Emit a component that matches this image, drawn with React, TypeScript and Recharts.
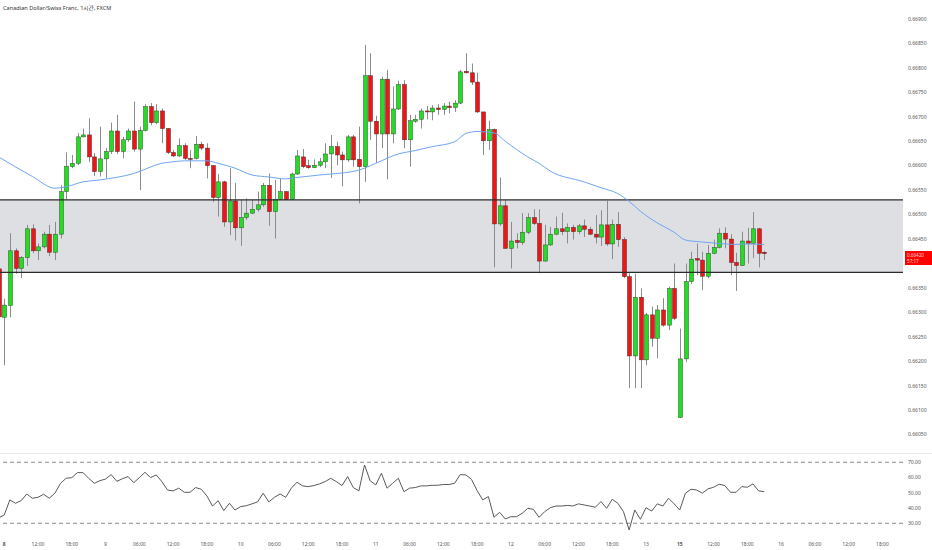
import React from "react";
import {
  ComposedChart,
  LineChart,
  Bar,
  Line,
  XAxis,
  YAxis,
  ReferenceArea,
  ReferenceLine,
} from "recharts";

// CAD/CHF 1h bars, index 0 = Mon 8th 06:00 (bar -1 is cut by the left edge)
const FIRST_BAR = -1;

const opens = [
  0.66389, 0.6629, 0.66314, 0.66426, 0.6639, 0.66412, 0.66471, 0.66426, 0.66434, 0.6646,
  0.66423, 0.6646, 0.66547, 0.66598, 0.66605, 0.66659, 0.66663, 0.66618, 0.66588, 0.66614,
  0.66629, 0.66671, 0.66629, 0.66653, 0.66671, 0.66634, 0.66672, 0.66721, 0.66688, 0.66712,
  0.66676, 0.66627, 0.6662, 0.66641, 0.66615, 0.66615, 0.66644, 0.66636, 0.666, 0.66535,
  0.66567, 0.66485, 0.66528, 0.66473, 0.66494, 0.66503, 0.66511, 0.6652, 0.6656, 0.66506,
  0.66531, 0.66547, 0.66531, 0.66583, 0.66618, 0.666, 0.66596, 0.66601, 0.66608, 0.66624,
  0.66639, 0.66622, 0.66612, 0.66659, 0.66613, 0.66598, 0.66784, 0.66691, 0.66665, 0.66777,
  0.66665, 0.66716, 0.66766, 0.66653, 0.66691, 0.66695, 0.66712, 0.6671, 0.66718, 0.66715,
  0.66722, 0.66719, 0.66728, 0.66793, 0.6679, 0.66771, 0.6671, 0.66651, 0.66674, 0.66481,
  0.66518, 0.66431, 0.66447, 0.66443, 0.66464, 0.66494, 0.66482, 0.66405, 0.66438, 0.6646,
  0.66471, 0.66465, 0.66474, 0.66465, 0.66477, 0.6647, 0.6646, 0.66454, 0.66479, 0.6644,
  0.6648, 0.66449, 0.66373, 0.66211, 0.66331, 0.66203, 0.66295, 0.66247, 0.66305, 0.66274,
  0.66349, 0.66085, 0.66205, 0.66363, 0.6641, 0.66407, 0.66374, 0.66421, 0.66433, 0.66462,
  0.6645, 0.66402, 0.66396, 0.66446, 0.66441, 0.66471, 0.66423,
];

const highs = [
  0.66392, 0.66328, 0.66462, 0.66431, 0.66415, 0.66479, 0.6648, 0.66441, 0.66465, 0.66479,
  0.66485, 0.6656, 0.66627, 0.66622, 0.66667, 0.66676, 0.66697, 0.66626, 0.6668, 0.66636,
  0.66688, 0.66704, 0.66659, 0.66676, 0.66731, 0.6668, 0.66726, 0.66728, 0.66726, 0.66717,
  0.66677, 0.66632, 0.66656, 0.66646, 0.66632, 0.66661, 0.66649, 0.66646, 0.66601, 0.66583,
  0.66569, 0.66595, 0.66565, 0.6653, 0.66533, 0.6653, 0.66547, 0.66565, 0.66584, 0.66571,
  0.66574, 0.66548, 0.66586, 0.66632, 0.66634, 0.66612, 0.66613, 0.66616, 0.66646, 0.66663,
  0.66649, 0.66629, 0.66663, 0.66663, 0.6668, 0.66847, 0.6683, 0.66702, 0.66782, 0.66796,
  0.66762, 0.66774, 0.66775, 0.66704, 0.66704, 0.66717, 0.66722, 0.66724, 0.66726, 0.66728,
  0.66731, 0.66734, 0.66796, 0.6683, 0.66809, 0.6679, 0.6671, 0.66692, 0.66676, 0.66576,
  0.6653, 0.66485, 0.66462, 0.66503, 0.66503, 0.66511, 0.66511, 0.66479, 0.66475, 0.66496,
  0.66504, 0.66482, 0.66479, 0.66481, 0.6649, 0.66475, 0.66499, 0.66509, 0.66528, 0.6649,
  0.66505, 0.66454, 0.6638, 0.66379, 0.66349, 0.66299, 0.66312, 0.66315, 0.66329, 0.66353,
  0.664, 0.66267, 0.664, 0.66424, 0.66441, 0.66424, 0.66438, 0.66449, 0.66472, 0.66474,
  0.6646, 0.66422, 0.66465, 0.66473, 0.66505, 0.66473, 0.66426,
];

const lows = [
  0.6628, 0.66192, 0.6629, 0.66379, 0.6637, 0.66395, 0.66421, 0.66407, 0.66431, 0.66415,
  0.66407, 0.66451, 0.66531, 0.66595, 0.66601, 0.66658, 0.66608, 0.66579, 0.66578, 0.66574,
  0.66624, 0.66624, 0.66615, 0.66649, 0.66629, 0.6655, 0.6667, 0.66683, 0.66685, 0.66646,
  0.66624, 0.66618, 0.66618, 0.66612, 0.66595, 0.66613, 0.66632, 0.66574, 0.66526, 0.66496,
  0.66475, 0.66458, 0.66447, 0.66436, 0.66489, 0.66501, 0.66506, 0.66516, 0.66477, 0.66451,
  0.6653, 0.6653, 0.6653, 0.66581, 0.66595, 0.66594, 0.66595, 0.66597, 0.66595, 0.66575,
  0.66601, 0.66558, 0.66608, 0.66598, 0.66523, 0.66567, 0.66653, 0.66606, 0.66636, 0.66572,
  0.66646, 0.66714, 0.66636, 0.66598, 0.66688, 0.66676, 0.66695, 0.66693, 0.66704, 0.66704,
  0.66707, 0.6671, 0.66726, 0.66789, 0.66765, 0.66708, 0.66622, 0.66632, 0.66392, 0.66477,
  0.6643, 0.6639, 0.66431, 0.66438, 0.6646, 0.66479, 0.6638, 0.66404, 0.66436, 0.66458,
  0.66458, 0.66441, 0.66449, 0.6646, 0.66454, 0.66458, 0.66441, 0.66436, 0.66436, 0.66409,
  0.66434, 0.6637, 0.66145, 0.66145, 0.66145, 0.66192, 0.6623, 0.66206, 0.66271, 0.66264,
  0.66284, 0.66084, 0.66199, 0.66358, 0.66376, 0.66346, 0.6637, 0.66419, 0.66431, 0.66431,
  0.66376, 0.66344, 0.66395, 0.664, 0.66411, 0.66392, 0.66407,
];

const closes = [
  0.66291, 0.66315, 0.66426, 0.6639, 0.66412, 0.66471, 0.66426, 0.66434, 0.6646, 0.66423,
  0.6646, 0.66547, 0.66599, 0.66605, 0.66659, 0.66663, 0.66618, 0.66588, 0.66614, 0.66629,
  0.66671, 0.66629, 0.66653, 0.66671, 0.66634, 0.66672, 0.66721, 0.66688, 0.66712, 0.66676,
  0.66627, 0.6662, 0.66641, 0.66615, 0.66614, 0.66644, 0.66636, 0.666, 0.66535, 0.66567,
  0.66485, 0.66528, 0.66473, 0.66494, 0.66503, 0.66511, 0.6652, 0.6656, 0.66506, 0.66531,
  0.66547, 0.66531, 0.66583, 0.6662, 0.66598, 0.66596, 0.66601, 0.66608, 0.66624, 0.66639,
  0.66622, 0.66612, 0.66659, 0.66612, 0.66598, 0.66784, 0.66691, 0.66665, 0.66777, 0.66665,
  0.66716, 0.66766, 0.66653, 0.66692, 0.66695, 0.66712, 0.66711, 0.66718, 0.66715, 0.66722,
  0.66719, 0.66728, 0.66792, 0.6679, 0.66771, 0.6671, 0.66651, 0.66674, 0.66481, 0.66518,
  0.66431, 0.66446, 0.66443, 0.66464, 0.66494, 0.66482, 0.66405, 0.66438, 0.6646, 0.66471,
  0.66465, 0.66474, 0.66465, 0.66477, 0.6647, 0.6646, 0.66454, 0.66479, 0.6644, 0.6648,
  0.66449, 0.66373, 0.66211, 0.66331, 0.66203, 0.66295, 0.66247, 0.66305, 0.66274, 0.66349,
  0.66288, 0.66205, 0.66363, 0.66409, 0.66407, 0.66374, 0.66421, 0.66433, 0.66462, 0.6645,
  0.66402, 0.66396, 0.66446, 0.66441, 0.66471, 0.66421, 0.6642,
];

// RSI(14) per bar
const rsi = [
  33.5, 35.4, 45.3, 43.1, 44.8, 49.2, 46.4, 47.0, 49.0, 46.4,
  49.7, 56.2, 59.5, 59.9, 63.2, 63.2, 59.5, 56.2, 57.9, 59.0,
  61.9, 57.5, 59.2, 60.6, 56.6, 59.9, 63.4, 59.9, 61.7, 57.3,
  51.8, 51.2, 53.0, 50.3, 50.3, 53.4, 52.3, 47.9, 41.3, 44.8,
  38.3, 43.1, 38.7, 40.9, 41.5, 42.7, 44.0, 49.7, 44.0, 47.0,
  49.2, 47.0, 53.0, 56.9, 54.5, 54.0, 54.7, 55.8, 57.3, 59.5,
  57.3, 54.7, 60.6, 53.4, 51.2, 68.2, 57.9, 55.1, 62.8, 53.0,
  56.2, 59.5, 50.7, 53.0, 53.4, 54.5, 54.5, 54.9, 54.9, 55.4,
  55.4, 56.2, 61.9, 61.7, 58.8, 51.4, 45.3, 47.5, 33.9, 37.2,
  32.8, 34.3, 34.3, 36.5, 39.8, 39.1, 33.9, 37.6, 40.2, 41.3,
  41.3, 41.7, 41.3, 42.7, 42.0, 41.3, 40.5, 44.2, 39.8, 45.7,
  43.1, 37.6, 25.6, 38.7, 32.6, 40.2, 38.0, 42.7, 41.3, 46.4,
  42.7, 38.7, 49.7, 52.3, 51.8, 49.7, 52.5, 53.6, 55.6, 54.7,
  50.3, 50.3, 54.0, 53.6, 55.8, 51.2, 50.7,
];

// moving average, read at these bars
const maBars = [
  -1, 5, 9, 11, 14, 17, 23, 28, 30, 32, 36, 38, 41, 44, 47, 50, 52, 56, 58, 63, 66, 70,
  73, 76, 80, 82, 84, 87, 89, 93, 95, 97, 103, 106, 109, 111, 113, 116, 119, 121, 124,
  127, 130, 132, 135,
];
const maValues = [
  0.66618, 0.66578, 0.66554, 0.66557, 0.66567, 0.66571, 0.66584, 0.66605, 0.66608, 0.6661,
  0.6661, 0.66605, 0.66595, 0.66581, 0.66577, 0.66573, 0.66576, 0.66581, 0.66583, 0.66591,
  0.66605, 0.66624, 0.66631, 0.66639, 0.66649, 0.66666, 0.6667, 0.66667, 0.6665, 0.66618,
  0.66605, 0.66589, 0.66567, 0.66555, 0.66543, 0.66527, 0.66507, 0.66483, 0.66464, 0.66448,
  0.66444, 0.66441, 0.66439, 0.6644, 0.66439,
];

const zoneTop = 0.6653;
const zoneBottom = 0.66382;
const lastPrice = 0.6642;
const countdown = "57:17";

// 0.66400 sits under the last-price tag, so it is left out
const priceTicks = [
  0.6605, 0.661, 0.6615, 0.662, 0.6625, 0.663, 0.6635, 0.6645, 0.665, 0.6655,
  0.666, 0.6665, 0.667, 0.6675, 0.668, 0.6685, 0.669,
];
const rsiTicks = [30, 40, 50, 60, 70];

const timeTicks = [
  0, 6, 12, 18, 24, 30, 36, 42, 48, 54, 60, 66, 72, 78, 84, 90, 96, 102, 108, 114, 120,
  126, 132, 138, 144, 150, 156,
];
const timeLabels = [
  "8", "12:00", "18:00", "9", "06:00", "12:00", "18:00", "10", "06:00", "12:00", "18:00",
  "11", "06:00", "12:00", "18:00", "12", "06:00", "12:00", "18:00", "13", "15", "12:00",
  "18:00", "16", "06:00", "12:00", "18:00",
];
const boldLabels = ["8", "15"];

const X_DOMAIN = [-0.75, 159.65];
const FONT = '"Noto Sans", "Noto Sans CJK KR", sans-serif';

const bars = opens.map((o, k) => ({
  i: k + FIRST_BAR,
  open: o,
  high: highs[k],
  low: lows[k],
  close: closes[k],
  rsi: rsi[k],
  ma: null as number | null,
}));
maBars.forEach((b, k) => {
  bars[b - FIRST_BAR].ma = maValues[k];
});

const Candle = (props: any) => {
  const { x, y, width, height, payload } = props;
  if (x == null || y == null) return null;
  const { open, close, high, low } = payload;
  const top = Math.min(y, y + height);
  const h = Math.abs(height);
  const yOf = (v: number) => (high === low ? top : top + ((high - v) / (high - low)) * h);
  const cx = Math.round(x + width / 2) + 0.5;
  const up = close >= open;
  const bTop = yOf(Math.max(open, close));
  const bBot = yOf(Math.min(open, close));
  return (
    <g>
      <line x1={cx} x2={cx} y1={top} y2={top + h} stroke="#8c8c8c" strokeWidth={1} />
      <rect
        x={cx - 2}
        y={bTop}
        width={4}
        height={Math.max(1, bBot - bTop)}
        fill={up ? "#22dd22" : "#f01414"}
        stroke={up ? "#2f4f2f" : "#4a2a2a"}
        strokeWidth={0.5}
      />
    </g>
  );
};

const TimeTick = (props: any) => {
  const { x, y, payload } = props;
  const label = timeLabels[timeTicks.indexOf(payload.value)];
  return (
    <text
      x={x}
      y={y}
      dy={11}
      textAnchor="middle"
      fontSize={5}
      fontFamily={FONT}
      fontWeight={boldLabels.includes(label) ? 700 : 400}
      fill="#555"
    >
      {label}
    </text>
  );
};

export default function App() {
  return (
    <div
      style={{
        position: "fixed",
        left: 0,
        top: 0,
        width: 932,
        height: 550,
        background: "#fff",
        overflow: "hidden",
        fontFamily: FONT,
      }}
    >
      <div style={{ position: "absolute", left: 0, top: 0 }}>
        <ComposedChart width={932} height={453} data={bars} margin={{ top: 0, right: 0, left: 0, bottom: 0 }}>
          <XAxis dataKey="i" type="number" domain={X_DOMAIN} allowDataOverflow hide />
          <YAxis
            orientation="right"
            width={29}
            domain={[0.660125, 0.669389]}
            allowDataOverflow
            ticks={priceTicks}
            interval={0}
            tickFormatter={(v: number) => v.toFixed(5)}
            tick={{ fontSize: 5, fill: "#555", fontFamily: FONT }}
            axisLine={false}
            tickLine={false}
            tickSize={0}
            tickMargin={5}
          />
          <ReferenceArea y1={zoneBottom} y2={zoneTop} fill="#dedfe3" fillOpacity={1} stroke="none" />
          <ReferenceLine y={zoneTop} stroke="#2b2b2b" strokeWidth={1.3} />
          <ReferenceLine y={zoneBottom} stroke="#2b2b2b" strokeWidth={1.3} />
          <Line
            dataKey="ma"
            type="monotone"
            connectNulls
            dot={false}
            stroke="#6ea5f3"
            strokeWidth={1}
            isAnimationActive={false}
          />
          <Bar
            dataKey={(d: any) => [d.low, d.high]}
            barSize={4}
            shape={<Candle />}
            isAnimationActive={false}
          />
        </ComposedChart>
      </div>

      <div
        style={{
          position: "absolute",
          left: 3,
          top: 4,
          fontSize: 5.6,
          color: "#333",
          whiteSpace: "nowrap",
        }}
      >
        Canadian Dollar/Swiss Franc, 1시간, FXCM
      </div>

      <div
        style={{
          position: "absolute",
          left: 905,
          top: 251,
          width: 27,
          height: 14,
          background: "#ff0000",
          color: "#ffd6d6",
          fontSize: 4.6,
          lineHeight: "6px",
          paddingLeft: 2,
          paddingTop: 1,
          boxSizing: "border-box",
        }}
      >
        <div>{lastPrice.toFixed(5)}</div>
        <div>{countdown}</div>
      </div>

      <div style={{ position: "absolute", left: 0, top: 453, width: 932, height: 1, background: "#e9e9e9" }} />

      <div style={{ position: "absolute", left: 0, top: 453 }}>
        <LineChart width={932} height={97} data={bars} margin={{ top: 1, right: 0, left: 0, bottom: 0 }}>
          <XAxis
            dataKey="i"
            type="number"
            domain={X_DOMAIN}
            allowDataOverflow
            ticks={timeTicks}
            interval={0}
            tick={<TimeTick />}
            axisLine={false}
            tickLine={false}
            tickSize={0}
            tickMargin={0}
            height={15}
          />
          <YAxis
            orientation="right"
            width={29}
            domain={[22.3, 75.4]}
            allowDataOverflow
            ticks={rsiTicks}
            interval={0}
            tickFormatter={(v: number) => v.toFixed(2)}
            tick={{ fontSize: 5, fill: "#555", fontFamily: FONT }}
            axisLine={false}
            tickLine={false}
            tickSize={0}
            tickMargin={5}
          />
          <ReferenceLine y={70} stroke="#8a8a8a" strokeDasharray="4 3" />
          <ReferenceLine y={30} stroke="#8a8a8a" strokeDasharray="4 3" />
          <Line
            dataKey="rsi"
            type="linear"
            dot={false}
            stroke="#5a5a5a"
            strokeWidth={1}
            isAnimationActive={false}
          />
        </LineChart>
      </div>
    </div>
  );
}
